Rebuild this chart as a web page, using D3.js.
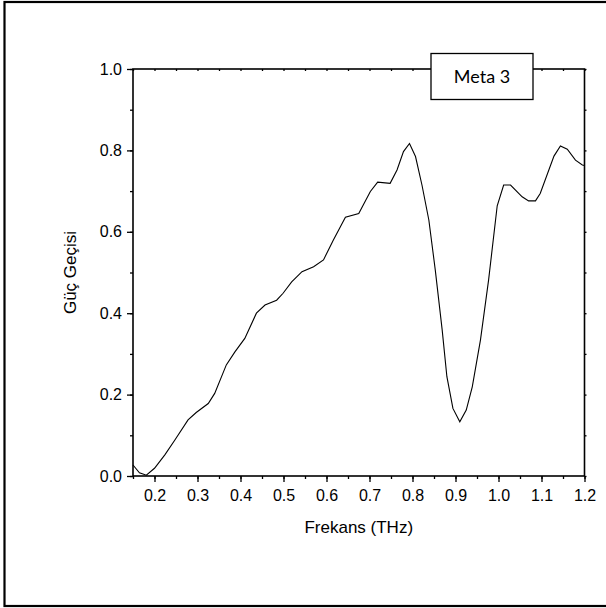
<!DOCTYPE html>
<html>
    <head>
        <meta charset="UTF-8" />
        <title>Meta 3</title>
        <style>
            body { margin: 0; background: #fff; }
        </style>
    </head>
    <body>
        <script src="https://d3js.org/d3.v7.min.js"></script>
        <script type="text/javascript">
            // data
            var freq = [0.15, 0.165, 0.181, 0.2, 0.224, 0.247, 0.278, 0.297, 0.325, 0.34,
                0.367, 0.387, 0.41, 0.437, 0.457, 0.484, 0.499, 0.519, 0.543, 0.57,
                0.593, 0.616, 0.644, 0.675, 0.702, 0.719, 0.748, 0.764, 0.779, 0.793,
                0.807, 0.822, 0.838, 0.853, 0.869, 0.88, 0.894, 0.91, 0.925, 0.939,
                0.958, 0.977, 0.997, 1.012, 1.028, 1.055, 1.07, 1.086, 1.097, 1.129,
                1.144, 1.16, 1.179, 1.195, 1.2];
            var power = [0.027, 0.008, 0.002, 0.019, 0.052, 0.088, 0.138, 0.156, 0.178, 0.203,
                0.273, 0.305, 0.338, 0.4, 0.42, 0.432, 0.449, 0.477, 0.502, 0.514,
                0.531, 0.58, 0.636, 0.645, 0.699, 0.722, 0.719, 0.752, 0.797, 0.817,
                0.785, 0.715, 0.629, 0.506, 0.359, 0.244, 0.166, 0.133, 0.162, 0.219,
                0.334, 0.482, 0.664, 0.715, 0.715, 0.686, 0.676, 0.676, 0.694, 0.786,
                0.811, 0.803, 0.776, 0.764, 0.763];
            var xTicks = [0.2, 0.3, 0.4, 0.5, 0.6, 0.7, 0.8, 0.9, 1.0, 1.1, 1.2];
            var yTicks = [0.0, 0.2, 0.4, 0.6, 0.8, 1.0];
            var seriesName = "Meta 3";
            var xTitle = "Frekans (THz)";
            var yTitle = "Güç Geçisi";

            var W = 606, H = 608;
            var pL = 133, pR = 584.5, pT = 69, pB = 476;

            var svg = d3
                .select("body")
                .append("svg")
                .attr("width", W)
                .attr("height", H);

            // outer frame
            svg.append("rect")
                .attr("x", 4.5)
                .attr("y", 2)
                .attr("width", 610)
                .attr("height", 604)
                .attr("fill", "none")
                .attr("stroke", "#000")
                .attr("stroke-width", 2.2);

            var x = d3.scaleLinear().domain([0.15, 1.2]).range([pL, pR]);
            var y = d3.scaleLinear().domain([0, 1]).range([pB, pT]);

            var minorX = d3.range(0.15, 1.2001, 0.05).map(function(d) {
                return +d.toFixed(2);
            });
            var minorY = d3.range(0, 1.0001, 0.1).map(function(d) {
                return +d.toFixed(1);
            });

            var fmt = d3.format(".1f");

            // bottom axis
            svg.append("g")
                .attr("transform", "translate(0," + pB + ")")
                .call(d3.axisBottom(x).tickValues(minorX).tickSize(3).tickFormat(""));
            svg.append("g")
                .attr("class", "xaxis")
                .attr("transform", "translate(0," + pB + ")")
                .call(d3.axisBottom(x).tickValues(xTicks).tickSize(6).tickPadding(8).tickFormat(fmt));

            // left axis
            svg.append("g")
                .attr("transform", "translate(" + pL + ",0)")
                .call(d3.axisLeft(y).tickValues(minorY).tickSize(3).tickFormat(""));
            svg.append("g")
                .attr("class", "yaxis")
                .attr("transform", "translate(" + pL + ",0)")
                .call(d3.axisLeft(y).tickValues(yTicks).tickSize(6).tickPadding(5).tickFormat(fmt));

            // top and right axes, small inward ticks
            svg.append("g")
                .attr("transform", "translate(0," + pT + ")")
                .call(d3.axisBottom(x).tickValues(minorX).tickSize(2).tickFormat(""));
            svg.append("g")
                .attr("transform", "translate(" + pR + ",0)")
                .call(d3.axisLeft(y).tickValues(minorY).tickSize(-2).tickFormat(""));

            svg.selectAll(".tick line").attr("stroke-width", 1.3);
            svg.selectAll(".domain").remove();

            // frame of the plot
            svg.append("rect")
                .attr("x", pL)
                .attr("y", pT)
                .attr("width", pR - pL)
                .attr("height", pB - pT)
                .attr("fill", "none")
                .attr("stroke", "#000")
                .attr("stroke-width", 1.6);

            svg.selectAll(".xaxis, .yaxis")
                .attr("font-family", "'Liberation Sans', Arial, sans-serif")
                .attr("font-size", 16);
            svg.selectAll(".xaxis text, .yaxis text").attr("fill", "#000");

            // curve
            var line = d3.line()
                .x(function(d, i) { return x(freq[i]); })
                .y(function(d) { return y(d); });

            svg.append("path")
                .datum(power)
                .attr("fill", "none")
                .attr("stroke", "#000")
                .attr("stroke-width", 1.1)
                .attr("d", line);

            // legend box
            svg.append("rect")
                .attr("x", 431)
                .attr("y", 53.5)
                .attr("width", 102)
                .attr("height", 46)
                .attr("fill", "#fff")
                .attr("stroke", "#000")
                .attr("stroke-width", 1.3);
            svg.append("text")
                .attr("x", 482)
                .attr("y", 83)
                .attr("text-anchor", "middle")
                .attr("font-family", "Lato, 'Open Sans', sans-serif")
                .attr("font-size", 18)
                .text(seriesName);

            // axis titles
            svg.append("text")
                .attr("x", (pL + pR) / 2)
                .attr("y", 533)
                .attr("text-anchor", "middle")
                .attr("font-family", "'Liberation Sans', Arial, sans-serif")
                .attr("font-size", 17)
                .text(xTitle);
            svg.append("text")
                .attr("transform", "translate(76," + (pT + pB) / 2 + ") rotate(-90)")
                .attr("text-anchor", "middle")
                .attr("font-family", "'Liberation Sans', Arial, sans-serif")
                .attr("font-size", 17)
                .text(yTitle);
        </script>
    </body>
</html>
